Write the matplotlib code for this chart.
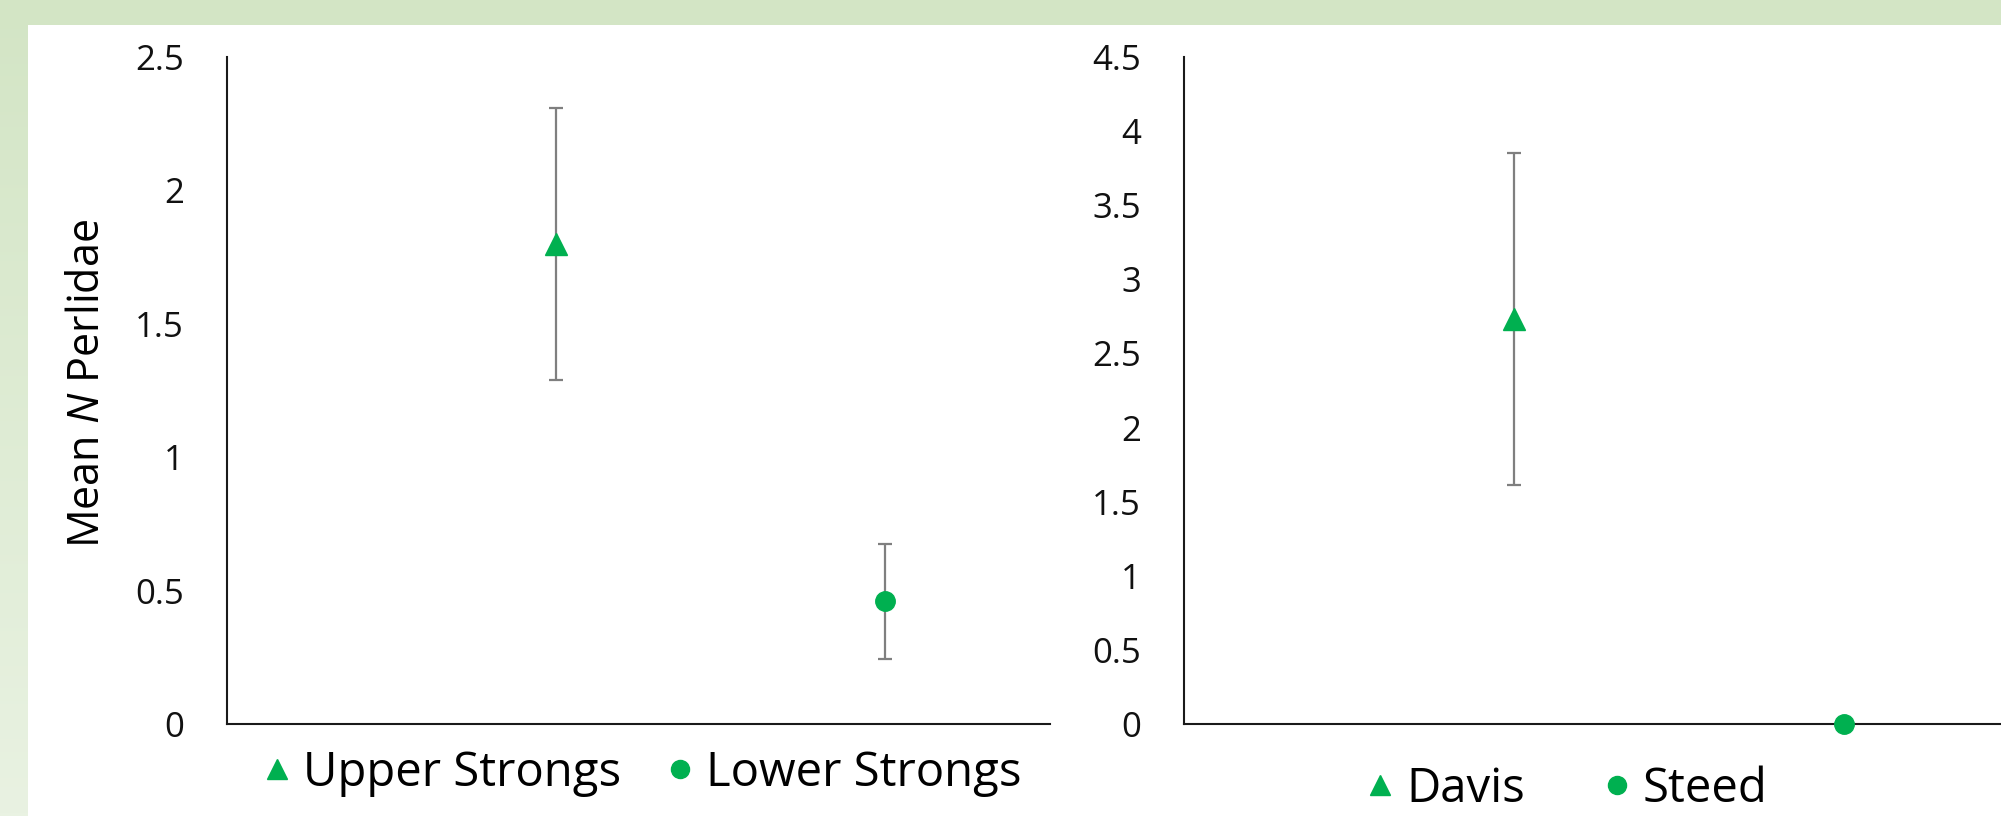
import matplotlib
matplotlib.use('Agg')
import matplotlib.pyplot as plt
from matplotlib.lines import Line2D
from matplotlib.patches import Rectangle
import numpy as np

# data
left_sites = ['Upper Strongs', 'Lower Strongs']
left_mean = [1.80, 0.46]
left_err = [0.51, 0.215]

right_sites = ['Davis', 'Steed']
right_mean = [2.73, 0.0]
right_err = [1.12, 0.0]

markers = ['^', 'o']
green = '#00B050'
bar_grey = '#7F7F7F'

plt.rcParams['font.family'] = ['Open Sans', 'DejaVu Sans']
plt.rcParams['mathtext.fontset'] = 'custom'
plt.rcParams['mathtext.it'] = 'Open Sans:italic'
plt.rcParams['mathtext.rm'] = 'Open Sans'

W, H = 2001, 816
fig = plt.figure(figsize=(W / 100, H / 100), dpi=100)

# green gradient frame behind a white panel
bg = fig.add_axes([0, 0, 1, 1], zorder=-10)
grad = np.linspace(0, 1, 256).reshape(-1, 1)
top_c = np.array([211, 229, 197]) / 255
bot_c = np.array([233, 242, 226]) / 255
img = top_c[None, None, :] * (1 - grad[:, :, None]) + bot_c[None, None, :] * grad[:, :, None]
bg.imshow(img, aspect='auto', extent=[0, 1, 0, 1])
bg.add_patch(Rectangle((28 / W, 0), 1, 1 - 25 / H, color='white', lw=0))
bg.set_xlim(0, 1)
bg.set_ylim(0, 1)
bg.axis('off')


def draw_panel(ax, means, errs, ymax, step):
    xs = np.arange(1, len(means) + 1)
    for x, m, e, mk in zip(xs, means, errs, markers):
        if e > 0:
            ax.errorbar(x, m, yerr=e, fmt='none', ecolor=bar_grey,
                        elinewidth=1.6, capsize=5, capthick=1.6, zorder=2)
        ax.plot(x, m, marker=mk, color=green, ms=16 if mk == '^' else 14,
                ls='none', zorder=3, clip_on=False)
    ax.set_xlim(0, 2.5)
    ax.set_ylim(0, ymax)
    ax.set_yticks(np.arange(0, ymax + 0.01, step))
    ax.set_yticklabels(['%g' % v for v in np.arange(0, ymax + 0.01, step)])
    ax.set_xticks([])
    ax.tick_params(axis='y', length=0, pad=31, labelsize=25, labelcolor='#111111')
    for s in ['top', 'right']:
        ax.spines[s].set_visible(False)
    for s in ['left', 'bottom']:
        ax.spines[s].set_linewidth(1.5)
        ax.spines[s].set_color('#1a1a1a')
    ax.set_facecolor('none')


ax1 = fig.add_axes([227 / W, 1 - 724 / H, 823 / W, 667 / H])
draw_panel(ax1, left_mean, left_err, 2.5, 0.5)
ax1.set_ylabel('Mean $\\it{N}$ Perlidae', fontsize=31, color='black')
ax1.yaxis.set_label_coords(-0.142, 0.51)

ax2 = fig.add_axes([1184 / W, 1 - 724 / H, 825 / W, 667 / H])
draw_panel(ax2, right_mean, right_err, 4.5, 0.5)

# legends
def handles(names):
    return [Line2D([], [], marker=mk, color=green, ls='none',
                   ms=14 if mk == '^' else 13, label=n)
            for mk, n in zip(markers, names)]

fig.legend(handles=handles(left_sites), loc='center', ncol=2,
           bbox_to_anchor=(643 / W, 1 - 773 / H), frameon=False,
           fontsize=34, handlelength=0.5, handletextpad=0.3, columnspacing=1.0,
           labelcolor='black')
fig.legend(handles=handles(right_sites), loc='center', ncol=2,
           bbox_to_anchor=(1568 / W, 1 - 789 / H), frameon=False,
           fontsize=34, handlelength=0.5, handletextpad=0.3, columnspacing=1.7,
           labelcolor='black', borderaxespad=0, borderpad=0.1)

fig.savefig('out.png', dpi=100)
